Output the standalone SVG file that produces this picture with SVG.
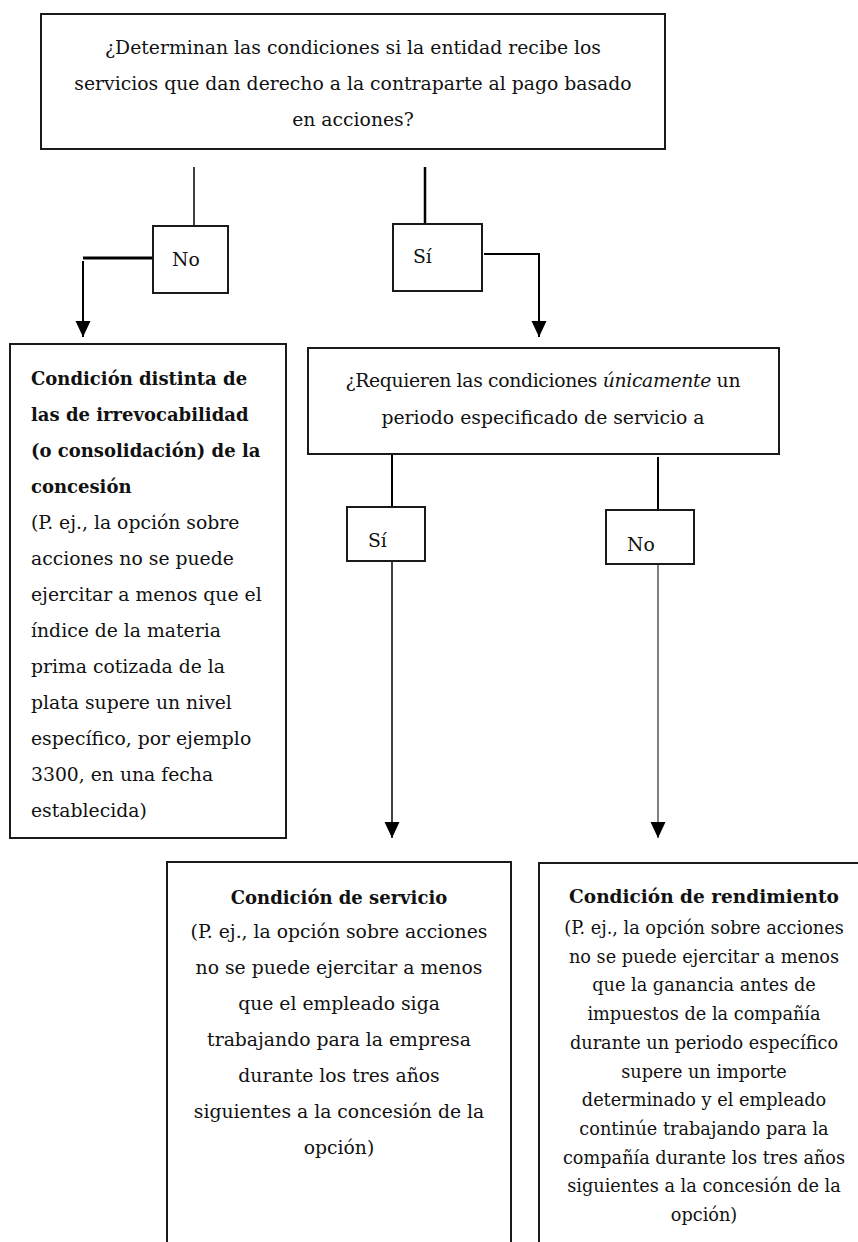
<svg xmlns="http://www.w3.org/2000/svg" width="858" height="1242" viewBox="0 0 858 1242">
<style>
.bx{fill:#fff;stroke:#1a1a1a;stroke-width:2}
.t{font-family:"DejaVu Serif","Liberation Serif",serif;font-size:18.8px;fill:#111}
.b{font-weight:bold;font-size:18px}
.s{font-size:17.7px}
.sb{font-weight:bold;font-size:18.5px}
.c{text-anchor:middle}
.ln{fill:none;stroke:#000}
</style>
<defs>
<marker id="ah" markerUnits="userSpaceOnUse" markerWidth="17" markerHeight="16" refX="16" refY="7.5" orient="auto">
<path d="M0,0 L16,7.5 L0,15 Z" fill="#000"/>
</marker>
</defs>
<g id="connectors">
<line class="ln" x1="194" y1="167" x2="194" y2="226" stroke-width="1.5"/>
<line class="ln" x1="152" y1="258" x2="83" y2="258" stroke-width="3"/>
<line class="ln" x1="83" y1="261" x2="83" y2="337" stroke-width="2" marker-end="url(#ah)"/>
<line class="ln" x1="425" y1="167" x2="425" y2="224" stroke-width="2.5"/>
<path class="ln" d="M484,254 H539 V337" stroke-width="2" marker-end="url(#ah)"/>
<line class="ln" x1="392" y1="454" x2="392" y2="510" stroke-width="2"/>
<line class="ln" x1="392" y1="559" x2="392" y2="838" stroke-width="1.5" marker-end="url(#ah)"/>
<line class="ln" x1="658" y1="457" x2="658" y2="510" stroke-width="2"/>
<line class="ln" x1="658" y1="561" x2="658" y2="838" stroke-width="1" marker-end="url(#ah)"/>
</g>
<g id="q1">
<rect class="bx" x="41" y="14" width="624" height="135"/>
<text class="t c" x="353" y="54">¿Determinan las condiciones si la entidad recibe los</text>
<text class="t c" x="353" y="90">servicios que dan derecho a la contraparte al pago basado</text>
<text class="t c" x="353" y="126">en acciones?</text>
</g>
<g id="no1">
<rect class="bx" x="153" y="226" width="75" height="67"/>
<text class="t" x="172" y="266">No</text>
</g>
<g id="si1">
<rect class="bx" x="393" y="224" width="89" height="67"/>
<text class="t" x="413" y="263">Sí</text>
</g>
<g id="otra">
<rect class="bx" x="10" y="344" width="276" height="494"/>
<text class="t b" x="31" y="385">Condición distinta de</text>
<text class="t b" x="31" y="421">las de irrevocabilidad</text>
<text class="t b" x="31" y="457">(o consolidación) de la</text>
<text class="t b" x="31" y="493">concesión</text>
<text class="t" x="31" y="529">(P. ej., la opción sobre</text>
<text class="t" x="31" y="565">acciones no se puede</text>
<text class="t" x="31" y="601">ejercitar a menos que el</text>
<text class="t" x="31" y="637">índice de la materia</text>
<text class="t" x="31" y="673">prima cotizada de la</text>
<text class="t" x="31" y="709">plata supere un nivel</text>
<text class="t" x="31" y="745">específico, por ejemplo</text>
<text class="t" x="31" y="781">3300, en una fecha</text>
<text class="t" x="31" y="817">establecida)</text>
</g>
<g id="q2">
<rect class="bx" x="308" y="348" width="471" height="106"/>
<text class="t c" x="543" y="387" textLength="395" lengthAdjust="spacing">¿Requieren las condiciones <tspan font-style="italic">únicamente</tspan> un</text>
<text class="t c" x="543" y="424">periodo especificado de servicio a</text>
</g>
<g id="si2">
<rect class="bx" x="347" y="507" width="78" height="54"/>
<text class="t" x="368" y="547">Sí</text>
</g>
<g id="no2">
<rect class="bx" x="606" y="510" width="88" height="54"/>
<text class="t" x="627" y="551">No</text>
</g>
<g id="servicio">
<rect class="bx" x="167" y="862" width="344" height="400"/>
<text class="t b c" x="339" y="904">Condición de servicio</text>
<text class="t c" x="339" y="938">(P. ej., la opción sobre acciones</text>
<text class="t c" x="339" y="974">no se puede ejercitar a menos</text>
<text class="t c" x="339" y="1010">que el empleado siga</text>
<text class="t c" x="339" y="1046">trabajando para la empresa</text>
<text class="t c" x="339" y="1082">durante los tres años</text>
<text class="t c" x="339" y="1118">siguientes a la concesión de la</text>
<text class="t c" x="339" y="1154">opción)</text>
</g>
<g id="rendimiento">
<rect class="bx" x="539" y="863" width="340" height="400"/>
<text class="t sb c" x="704" y="903">Condición de rendimiento</text>
<text class="t s c" x="704" y="934">(P. ej., la opción sobre acciones</text>
<text class="t s c" x="704" y="962.7">no se puede ejercitar a menos</text>
<text class="t s c" x="704" y="991.4">que la ganancia antes de</text>
<text class="t s c" x="704" y="1020.1">impuestos de la compañía</text>
<text class="t s c" x="704" y="1048.8">durante un periodo específico</text>
<text class="t s c" x="704" y="1077.5">supere un importe</text>
<text class="t s c" x="704" y="1106.2">determinado y el empleado</text>
<text class="t s c" x="704" y="1134.9">continúe trabajando para la</text>
<text class="t s c" x="704" y="1163.6">compañía durante los tres años</text>
<text class="t s c" x="704" y="1192.3">siguientes a la concesión de la</text>
<text class="t s c" x="704" y="1221">opción)</text>
</g>
</svg>
